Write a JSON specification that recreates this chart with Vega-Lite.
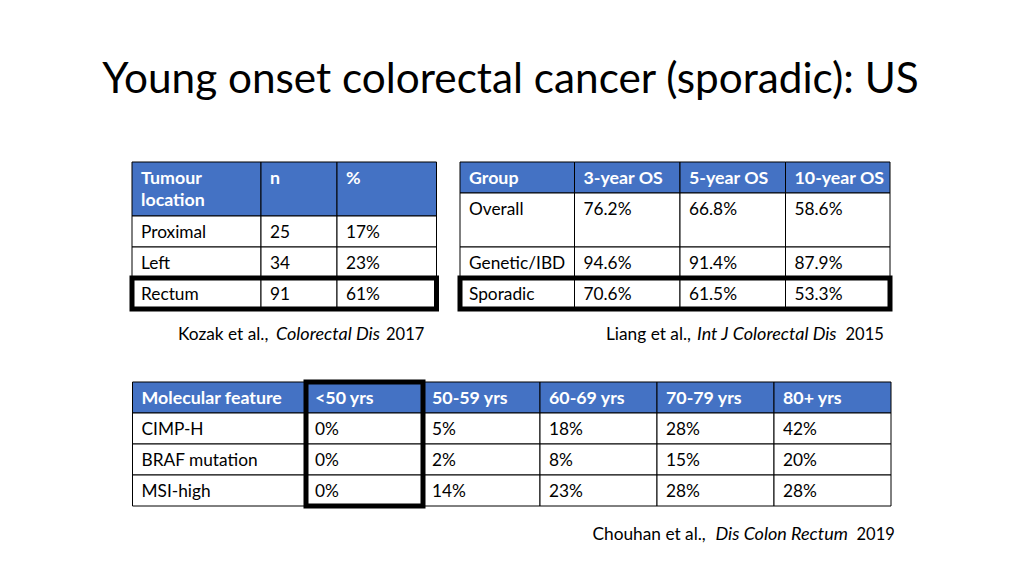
{
  "$schema": "https://vega.github.io/schema/vega-lite/v6.json",
  "width": 1024,
  "height": 576,
  "autosize": {"type": "none"},
  "padding": 0,
  "background": "white",
  "config": {"view": {"stroke": null}},
  "title": {"text": "Young onset colorectal cancer (sporadic): US", "font": "Lato", "fontSize": 42.3, "fontWeight": 400, "color": "black", "anchor": "middle", "orient": "top", "baseline": "alphabetic", "offset": -135, "dx": -1.5, "frame": "group"},
  "datasets": {
    "t1": [
      {"kind": "header", "r": 0, "r2": 1, "c": 0, "c2": 1, "text": "Tumour\nlocation"},
      {"kind": "header", "r": 0, "r2": 1, "c": 1, "c2": 2, "text": "n"},
      {"kind": "header", "r": 0, "r2": 1, "c": 2, "c2": 3, "text": "%"},
      {"kind": "body", "r": 1, "r2": 2, "c": 0, "c2": 1, "text": "Proximal"},
      {"kind": "body", "r": 1, "r2": 2, "c": 1, "c2": 2, "text": "25"},
      {"kind": "body", "r": 1, "r2": 2, "c": 2, "c2": 3, "text": "17%"},
      {"kind": "body", "r": 2, "r2": 3, "c": 0, "c2": 1, "text": "Left"},
      {"kind": "body", "r": 2, "r2": 3, "c": 1, "c2": 2, "text": "34"},
      {"kind": "body", "r": 2, "r2": 3, "c": 2, "c2": 3, "text": "23%"},
      {"kind": "body", "r": 3, "r2": 4, "c": 0, "c2": 1, "text": "Rectum"},
      {"kind": "body", "r": 3, "r2": 4, "c": 1, "c2": 2, "text": "91"},
      {"kind": "body", "r": 3, "r2": 4, "c": 2, "c2": 3, "text": "61%"},
      {"kind": "highlight", "r": 3, "r2": 4, "c": 0, "c2": 3, "text": ""},
      {"kind": "author", "r": 5, "c": 0, "text": "Kozak et al.,"},
      {"kind": "journal", "r": 5, "c": 0, "text": "Colorectal Dis"},
      {"kind": "year", "r": 5, "c": 0, "text": "2017"}
    ],
    "t2": [
      {"kind": "header", "r": 0, "r2": 1, "c": 0, "c2": 1, "text": "Group"},
      {"kind": "header", "r": 0, "r2": 1, "c": 1, "c2": 2, "text": "3-year OS"},
      {"kind": "header", "r": 0, "r2": 1, "c": 2, "c2": 3, "text": "5-year OS"},
      {"kind": "header", "r": 0, "r2": 1, "c": 3, "c2": 4, "text": "10-year OS"},
      {"kind": "body", "r": 1, "r2": 2, "c": 0, "c2": 1, "text": "Overall"},
      {"kind": "body", "r": 1, "r2": 2, "c": 1, "c2": 2, "text": "76.2%"},
      {"kind": "body", "r": 1, "r2": 2, "c": 2, "c2": 3, "text": "66.8%"},
      {"kind": "body", "r": 1, "r2": 2, "c": 3, "c2": 4, "text": "58.6%"},
      {"kind": "body", "r": 2, "r2": 3, "c": 0, "c2": 1, "text": "Genetic/IBD"},
      {"kind": "body", "r": 2, "r2": 3, "c": 1, "c2": 2, "text": "94.6%"},
      {"kind": "body", "r": 2, "r2": 3, "c": 2, "c2": 3, "text": "91.4%"},
      {"kind": "body", "r": 2, "r2": 3, "c": 3, "c2": 4, "text": "87.9%"},
      {"kind": "body", "r": 3, "r2": 4, "c": 0, "c2": 1, "text": "Sporadic"},
      {"kind": "body", "r": 3, "r2": 4, "c": 1, "c2": 2, "text": "70.6%"},
      {"kind": "body", "r": 3, "r2": 4, "c": 2, "c2": 3, "text": "61.5%"},
      {"kind": "body", "r": 3, "r2": 4, "c": 3, "c2": 4, "text": "53.3%"},
      {"kind": "highlight", "r": 3, "r2": 4, "c": 0, "c2": 4, "text": ""},
      {"kind": "author", "r": 5, "c": 0, "text": "Liang et al.,"},
      {"kind": "journal", "r": 5, "c": 0, "text": "Int J Colorectal Dis"},
      {"kind": "year", "r": 5, "c": 0, "text": "2015"}
    ],
    "t3": [
      {"kind": "header", "r": 0, "r2": 1, "c": 0, "c2": 1, "text": "Molecular feature"},
      {"kind": "header", "r": 0, "r2": 1, "c": 1, "c2": 2, "text": "<50 yrs"},
      {"kind": "header", "r": 0, "r2": 1, "c": 2, "c2": 3, "text": "50-59 yrs"},
      {"kind": "header", "r": 0, "r2": 1, "c": 3, "c2": 4, "text": "60-69 yrs"},
      {"kind": "header", "r": 0, "r2": 1, "c": 4, "c2": 5, "text": "70-79 yrs"},
      {"kind": "header", "r": 0, "r2": 1, "c": 5, "c2": 6, "text": "80+ yrs"},
      {"kind": "body", "r": 1, "r2": 2, "c": 0, "c2": 1, "text": "CIMP-H"},
      {"kind": "body", "r": 1, "r2": 2, "c": 1, "c2": 2, "text": "0%"},
      {"kind": "body", "r": 1, "r2": 2, "c": 2, "c2": 3, "text": "5%"},
      {"kind": "body", "r": 1, "r2": 2, "c": 3, "c2": 4, "text": "18%"},
      {"kind": "body", "r": 1, "r2": 2, "c": 4, "c2": 5, "text": "28%"},
      {"kind": "body", "r": 1, "r2": 2, "c": 5, "c2": 6, "text": "42%"},
      {"kind": "body", "r": 2, "r2": 3, "c": 0, "c2": 1, "text": "BRAF mutation"},
      {"kind": "body", "r": 2, "r2": 3, "c": 1, "c2": 2, "text": "0%"},
      {"kind": "body", "r": 2, "r2": 3, "c": 2, "c2": 3, "text": "2%"},
      {"kind": "body", "r": 2, "r2": 3, "c": 3, "c2": 4, "text": "8%"},
      {"kind": "body", "r": 2, "r2": 3, "c": 4, "c2": 5, "text": "15%"},
      {"kind": "body", "r": 2, "r2": 3, "c": 5, "c2": 6, "text": "20%"},
      {"kind": "body", "r": 3, "r2": 4, "c": 0, "c2": 1, "text": "MSI-high"},
      {"kind": "body", "r": 3, "r2": 4, "c": 1, "c2": 2, "text": "0%"},
      {"kind": "body", "r": 3, "r2": 4, "c": 2, "c2": 3, "text": "14%"},
      {"kind": "body", "r": 3, "r2": 4, "c": 3, "c2": 4, "text": "23%"},
      {"kind": "body", "r": 3, "r2": 4, "c": 4, "c2": 5, "text": "28%"},
      {"kind": "body", "r": 3, "r2": 4, "c": 5, "c2": 6, "text": "28%"},
      {"kind": "highlight", "r": 0, "r2": 4, "c": 1, "c2": 2, "text": ""},
      {"kind": "author", "r": 5, "c": 0, "text": "Chouhan et al.,"},
      {"kind": "journal", "r": 5, "c": 0, "text": "Dis Colon Rectum"},
      {"kind": "year", "r": 5, "c": 0, "text": "2019"}
    ]
  },
  "resolve": {"scale": {"x": "independent", "y": "independent"}},
  "layer": [
    {
      "data": {"name": "t1"},
      "encoding": {
        "x": {"field": "c", "type": "quantitative", "scale": {"domain": [0, 1, 2, 3], "range": [132, 261, 337, 436.5], "nice": false, "zero": false}, "axis": null},
        "y": {"field": "r", "type": "quantitative", "scale": {"domain": [0, 1, 2, 3, 4, 5], "range": [162, 216, 247, 278, 309, 340], "nice": false, "zero": false}, "axis": null}
      },
      "layer": [
        {"transform": [{"filter": "datum.kind === 'header' || datum.kind === 'body'"}], "mark": {"type": "rect", "stroke": "black", "strokeWidth": 1}, "encoding": {"x2": {"field": "c2"}, "y2": {"field": "r2"}, "fill": {"condition": {"test": "datum.kind === 'header'", "value": "#4472C4"}, "value": "white"}}},
        {"transform": [{"filter": "datum.kind === 'header'"}], "mark": {"type": "text", "align": "left", "baseline": "alphabetic", "dx": 9, "dy": 22, "font": "Lato", "fontSize": 17.8, "fontWeight": "bold", "fill": "white", "lineBreak": "\n", "lineHeight": 22.4}, "encoding": {"text": {"field": "text"}}},
        {"transform": [{"filter": "datum.kind === 'body'"}], "mark": {"type": "text", "align": "left", "baseline": "alphabetic", "dx": 9, "dy": 22, "font": "Lato", "fontSize": 17.3, "fill": "black"}, "encoding": {"text": {"field": "text"}}},
        {"transform": [{"filter": "datum.kind === 'highlight'"}], "mark": {"type": "rect", "fillOpacity": 0, "stroke": "black", "strokeWidth": 5}, "encoding": {"x2": {"field": "c2"}, "y2": {"field": "r2"}}},
        {"transform": [{"filter": "datum.kind === 'author'"}], "mark": {"type": "text", "align": "left", "baseline": "alphabetic", "dx": 46, "font": "Lato", "fontSize": 17.3, "fill": "black"}, "encoding": {"text": {"field": "text"}}},
        {"transform": [{"filter": "datum.kind === 'journal'"}], "mark": {"type": "text", "align": "left", "baseline": "alphabetic", "dx": 144, "font": "Lato", "fontSize": 18, "fontStyle": "italic", "fill": "black"}, "encoding": {"text": {"field": "text"}}},
        {"transform": [{"filter": "datum.kind === 'year'"}], "mark": {"type": "text", "align": "left", "baseline": "alphabetic", "dx": 254, "font": "Lato", "fontSize": 16.5, "fill": "black"}, "encoding": {"text": {"field": "text"}}}
      ]
    },
    {
      "data": {"name": "t2"},
      "encoding": {
        "x": {"field": "c", "type": "quantitative", "scale": {"domain": [0, 1, 2, 3, 4], "range": [460, 574.5, 680, 785.5, 890], "nice": false, "zero": false}, "axis": null},
        "y": {"field": "r", "type": "quantitative", "scale": {"domain": [0, 1, 2, 3, 4, 5], "range": [162, 193, 247, 278, 309, 340], "nice": false, "zero": false}, "axis": null}
      },
      "layer": [
        {"transform": [{"filter": "datum.kind === 'header' || datum.kind === 'body'"}], "mark": {"type": "rect", "stroke": "black", "strokeWidth": 1}, "encoding": {"x2": {"field": "c2"}, "y2": {"field": "r2"}, "fill": {"condition": {"test": "datum.kind === 'header'", "value": "#4472C4"}, "value": "white"}}},
        {"transform": [{"filter": "datum.kind === 'header'"}], "mark": {"type": "text", "align": "left", "baseline": "alphabetic", "dx": 9, "dy": 22, "font": "Lato", "fontSize": 17.8, "fontWeight": "bold", "fill": "white"}, "encoding": {"text": {"field": "text"}}},
        {"transform": [{"filter": "datum.kind === 'body'"}], "mark": {"type": "text", "align": "left", "baseline": "alphabetic", "dx": 9, "dy": 22, "font": "Lato", "fontSize": 17.3, "fill": "black"}, "encoding": {"text": {"field": "text"}}},
        {"transform": [{"filter": "datum.kind === 'highlight'"}], "mark": {"type": "rect", "fillOpacity": 0, "stroke": "black", "strokeWidth": 5}, "encoding": {"x2": {"field": "c2"}, "y2": {"field": "r2"}}},
        {"transform": [{"filter": "datum.kind === 'author'"}], "mark": {"type": "text", "align": "left", "baseline": "alphabetic", "dx": 146, "font": "Lato", "fontSize": 17.3, "fill": "black"}, "encoding": {"text": {"field": "text"}}},
        {"transform": [{"filter": "datum.kind === 'journal'"}], "mark": {"type": "text", "align": "left", "baseline": "alphabetic", "dx": 237, "font": "Lato", "fontSize": 18, "fontStyle": "italic", "fill": "black"}, "encoding": {"text": {"field": "text"}}},
        {"transform": [{"filter": "datum.kind === 'year'"}], "mark": {"type": "text", "align": "left", "baseline": "alphabetic", "dx": 385.5, "font": "Lato", "fontSize": 16.5, "fill": "black"}, "encoding": {"text": {"field": "text"}}}
      ]
    },
    {
      "data": {"name": "t3"},
      "encoding": {
        "x": {"field": "c", "type": "quantitative", "scale": {"domain": [0, 1, 2, 3, 4, 5, 6], "range": [132.5, 306, 423, 540, 657, 774, 891], "nice": false, "zero": false}, "axis": null},
        "y": {"field": "r", "type": "quantitative", "scale": {"domain": [0, 1, 2, 3, 4, 5], "range": [382, 413, 444, 475, 506, 540.3], "nice": false, "zero": false}, "axis": null}
      },
      "layer": [
        {"transform": [{"filter": "datum.kind === 'header' || datum.kind === 'body'"}], "mark": {"type": "rect", "stroke": "black", "strokeWidth": 1}, "encoding": {"x2": {"field": "c2"}, "y2": {"field": "r2"}, "fill": {"condition": {"test": "datum.kind === 'header'", "value": "#4472C4"}, "value": "white"}}},
        {"transform": [{"filter": "datum.kind === 'header'"}], "mark": {"type": "text", "align": "left", "baseline": "alphabetic", "dx": 9, "dy": 22, "font": "Lato", "fontSize": 17.8, "fontWeight": "bold", "fill": "white"}, "encoding": {"text": {"field": "text"}}},
        {"transform": [{"filter": "datum.kind === 'body'"}], "mark": {"type": "text", "align": "left", "baseline": "alphabetic", "dx": 9, "dy": 22, "font": "Lato", "fontSize": 17.3, "fill": "black"}, "encoding": {"text": {"field": "text"}}},
        {"transform": [{"filter": "datum.kind === 'highlight'"}], "mark": {"type": "rect", "fillOpacity": 0, "stroke": "black", "strokeWidth": 5}, "encoding": {"x2": {"field": "c2"}, "y2": {"field": "r2"}}},
        {"transform": [{"filter": "datum.kind === 'author'"}], "mark": {"type": "text", "align": "left", "baseline": "alphabetic", "dx": 460, "font": "Lato", "fontSize": 17.3, "fill": "black"}, "encoding": {"text": {"field": "text"}}},
        {"transform": [{"filter": "datum.kind === 'journal'"}], "mark": {"type": "text", "align": "left", "baseline": "alphabetic", "dx": 583, "font": "Lato", "fontSize": 18, "fontStyle": "italic", "fill": "black"}, "encoding": {"text": {"field": "text"}}},
        {"transform": [{"filter": "datum.kind === 'year'"}], "mark": {"type": "text", "align": "left", "baseline": "alphabetic", "dx": 724, "font": "Lato", "fontSize": 16.5, "fill": "black"}, "encoding": {"text": {"field": "text"}}}
      ]
    }
  ]
}
